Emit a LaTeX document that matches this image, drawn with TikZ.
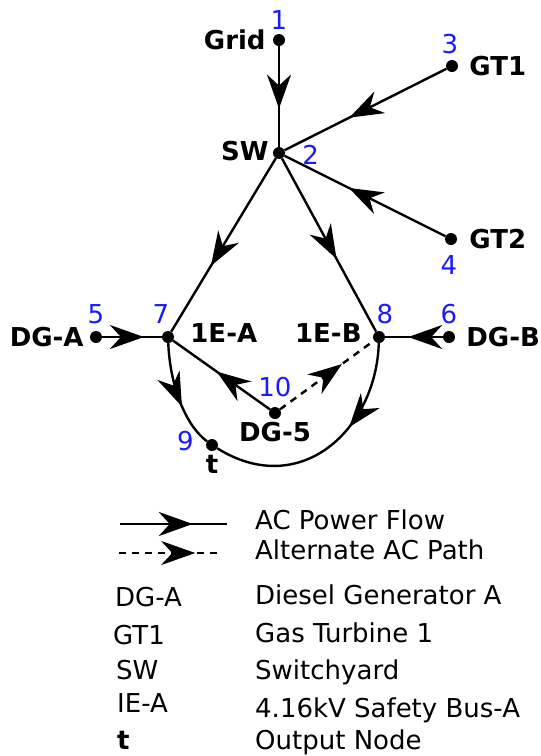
\documentclass[tikz,border=0pt]{standalone}
\usepackage{fontspec}
\setmainfont{DejaVu Sans}
\usetikzlibrary{arrows.meta, positioning, calc, decorations.markings}
\definecolor{numBlue}{HTML}{1A1AFF}
\tikzset{
    flowtip/.tip={Stealth[length=34pt, width=24pt, inset=11pt]},
    dot/.style={circle, fill, inner sep=0pt, minimum size=12pt},
    busname/.style={inner sep=0pt, font=\fontsize{26}{30}\selectfont\bfseries},
    busnum/.style={inner sep=0pt, text=numBlue, font=\fontsize{26}{30}\selectfont},
    legtext/.style={inner sep=0pt, anchor=base west, font=\fontsize{26}{30}\selectfont},
    wire/.style={line width=2.4pt},
    flow/.style={wire, postaction={decorate},
                 decoration={markings, mark=at position #1 with {\arrow{flowtip}}}},
    altflow/.style={flow=#1, dash pattern=on 7pt off 6pt},
}

\begin{document}
\begin{tikzpicture}[x=1pt, y=-1pt]
    \useasboundingbox (0,0) rectangle (541,756);
    % buses and sources
    \node[dot] (n1) at (279,40) {};
    \node[dot] (n2) at (279,153) {};
    \node[dot] (n3) at (452,66) {};
    \node[dot] (n4) at (451,239) {};
    \node[dot] (n5) at (96,337) {};
    \node[dot] (n6) at (449,337) {};
    \node[dot] (n7) at (168,337) {};
    \node[dot] (n8) at (379,337) {};
    \node[dot] (n9) at (212,445) {};
    \node[dot] (n10) at (275,413) {};
    % names
    \node[busname, left=7pt of n1] (grid) {Grid};
    \node[busname, left=4pt of n2, yshift=2pt] (sw) {SW};
    \node[busname, right=11pt of n3] (gt1) {GT1};
    \node[busname, right=12pt of n4] (gt2) {GT2};
    \node[busname, left=6pt of n5] (dga) {DG-A};
    \node[busname, right=11pt of n6] (dgb) {DG-B};
    \node[busname, right=16pt of n7, yshift=4pt] (ea) {1E-A};
    \node[busname, left=11pt of n8, yshift=4pt] (eb) {1E-B};
    \node[busname, below=3pt of n10] (dg5) {DG-5};
    \node[busname, below=4pt of n9] (tout) {t};
    % numbers
    \node[busnum, above=4pt of n1] (k1) {1};
    \node[busnum, right=17pt of n2, yshift=-2pt] (k2) {2};
    \node[busnum, above=6pt of n3, xshift=-2pt] (k3) {3};
    \node[busnum, below=10pt of n4, xshift=-2pt] (k4) {4};
    \node[busnum, above=7pt of n5] (k5) {5};
    \node[busnum, above=7pt of n6] (k6) {6};
    \node[busnum, above=7pt of n7, xshift=-7pt] (k7) {7};
    \node[busnum, above=7pt of n8, xshift=6pt] (k8) {8};
    \node[busnum, left=12pt of n9, yshift=4pt] (k9) {9};
    \node[busnum, above=10pt of n10] (k10) {10};
    % AC power flow
    \draw[flow=0.62] (n1) -- (n2);
    \draw[flow=0.6] (n3) -- (n2);
    \draw[flow=0.6] (n4) -- (n2);
    \draw[flow=0.62] (n2) -- (n7);
    \draw[flow=0.58] (n2) -- (n8);
    \draw[flow=0.7] (n5) -- (n7);
    \draw[flow=0.6] (n6) -- (n8);
    \draw[flow=0.55] (n10) -- (n7);
    \draw[flow=0.6] (n7) .. controls (170,385) and (185,425) .. (n9);
    \draw[flow=0.38] (n8) .. controls (376,430) and (300,500) .. (n9);
    % alternate path
    \draw[altflow=0.66] (n10) -- (n8);
    % legend
    \coordinate (la) at (120,524);
    \coordinate (lb) at (227,524);
    \coordinate (lc) at (119,553);
    \coordinate (ld) at (222,553);
    \draw[flow=0.68] (la) -- (lb);
    \draw[altflow=0.74] (lc) -- (ld);
    \node[legtext] (t1) at (255,529) {AC Power Flow};
    \node[legtext] (t2) at (255,559) {Alternate AC Path};
    \node[legtext] (s3) at (115,606) {DG-A};
    \node[legtext] (t3) at (255,604) {Diesel Generator A};
    \node[legtext] (s4) at (113,644) {GT1};
    \node[legtext] (t4) at (255,642) {Gas Turbine 1};
    \node[legtext] (s5) at (116,679) {SW};
    \node[legtext] (t5) at (255,679) {Switchyard};
    \node[legtext] (s6) at (117,712) {IE-A};
    \node[legtext] (t6) at (255,717) {4.16kV Safety Bus-A};
    \node[legtext, font=\fontsize{26}{30}\selectfont\bfseries] (s7) at (117,749) {t};
    \node[legtext] (t7) at (255,749) {Output Node};
\end{tikzpicture}
\end{document}
